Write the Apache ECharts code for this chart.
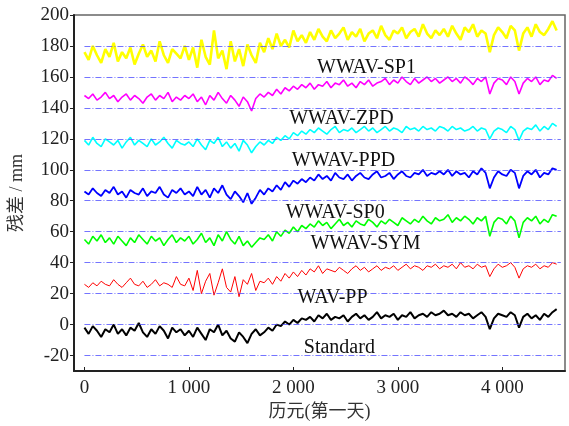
<!DOCTYPE html>
<html>
<head>
<meta charset="utf-8">
<script src="https://cdn.jsdelivr.net/npm/echarts@6/dist/echarts.min.js"></script>
<style>
  html, body { margin: 0; padding: 0; background: #fff; }
  #chart { width: 569px; height: 426px; }
</style>
</head>
<body>
<div id="chart"></div>
<script>
// 采样历元（每 40 天一个点）
const step = 40
const nPts = 114
const epochs = Array.from({ length: nPts }, (_, i) => i * step)

// 各方案残差 (mm)，已叠加偏移
const standard = [-2,-6,-1,-4,-8,-3,-5,0,-6,-3,-7,-2,-4,1,-5,-8,-3,-6,-1,-4,-9,-2,-5,-3,-7,
  -4,-8,-2,-6,-10,-3,-5,0,-7,-4,-9,-11,-5,-8,-12,-6,-3,-7,
  -5,-2,-4,0,-1,2,0,3,1,4,
  3,5,2,6,4,7,3,5,4,6,2,5,7,4,6,3,5,8,4,6,5,7,3,6,5,8,4,6,7,5,8,6,7,
  9,6,7,5,8,6,7,4,6,8,5,-3,4,7,6,5,8,6,-2,5,7,4,6,3,7,5,8,10]
const wavPP = [26,24,27,25,28,26,25,29,26,24,27,30,26,25,28,24,26,29,25,27,26,24,31,26,25,
  30,22,35,20,28,33,19,27,36,24,21,31,18,29,26,33,22,28,
  27,30,26,31,28,33,30,34,31,35,
  32,36,34,38,33,36,35,34,37,35,33,36,38,35,37,34,36,38,35,37,36,38,35,37,39,36,38,37,35,38,37,39,36,
  38,37,39,36,40,37,38,36,39,37,38,31,36,39,37,38,40,37,30,36,38,37,39,36,38,37,40,39]
const wwavSYM = [55,52,57,54,58,53,56,52,57,54,51,56,53,58,55,52,57,54,56,51,55,58,53,56,54,
  57,52,55,59,53,56,51,58,54,60,55,52,57,51,54,50,53,56,
  55,58,54,60,57,61,59,63,60,64,
  62,65,63,67,64,66,62,65,68,64,66,63,67,65,64,68,66,63,67,65,68,66,64,69,67,65,68,66,70,67,65,69,67,
  68,71,66,69,67,70,68,65,69,67,70,57,66,69,68,65,70,67,56,66,69,67,70,65,68,66,71,70]
const wwavSP0 = [86,84,88,85,83,87,85,89,84,86,82,87,85,84,88,83,86,85,89,84,82,87,85,88,84,
  86,83,89,84,87,82,88,85,90,84,81,86,83,79,85,78,82,87,
  84,88,86,90,87,92,89,93,91,94,
  92,95,93,97,94,96,93,98,95,94,97,93,96,98,95,94,97,99,95,96,98,94,97,99,96,95,98,97,100,96,98,97,99,
  97,100,96,99,97,98,95,99,97,101,98,88,95,99,97,96,100,98,88,96,99,97,100,95,98,97,101,100]
const wwavPPD = [119,116,121,117,115,120,118,116,119,114,118,121,116,119,117,115,120,116,118,121,117,114,119,117,116,
  118,115,120,116,113,119,117,121,115,118,114,117,112,119,116,111,115,118,
  116,119,117,121,119,122,120,124,122,125,
  123,126,124,127,125,123,126,128,124,126,125,127,124,126,128,125,127,124,126,128,125,127,126,124,128,126,127,125,128,126,127,125,128,
  127,125,128,126,127,125,126,128,125,127,126,120,125,127,126,124,128,126,119,125,127,126,129,125,128,126,130,128]
const wwavZPD = [148,146,149,145,147,150,146,148,144,147,149,145,148,146,143,147,149,145,148,146,150,144,147,145,148,
  146,149,144,147,142,148,145,150,146,143,148,145,141,147,144,138,146,149,
  147,150,148,152,149,153,151,154,152,155,
  153,156,152,155,154,157,153,156,155,158,154,156,153,157,155,158,154,156,157,159,155,158,156,160,157,155,159,156,158,160,157,159,156,
  158,160,157,159,156,160,158,155,159,157,160,149,156,159,158,155,160,157,149,156,159,157,160,155,158,157,161,159]
const wwavSP1 = [176,171,180,174,169,178,173,182,170,176,172,179,168,175,181,173,177,170,183,174,169,178,175,172,180,
  171,179,166,184,173,168,190,172,177,165,183,170,178,167,181,174,169,182,
  176,185,178,188,180,184,179,190,183,187,
  182,189,184,191,186,183,190,185,188,192,184,189,186,191,183,188,190,185,193,187,184,190,188,192,185,189,191,186,194,188,185,190,187,
  191,186,193,188,184,192,189,194,186,190,188,176,187,192,189,185,193,190,177,188,192,186,194,189,187,191,196,190]

// 参考虚线
const refLevels = [-20, 0, 20, 40, 60, 80, 100, 120, 140, 160, 180]
const refStart = 0
const refEnd = 4560

// 刻度
const yTicks = [-20, 0, 20, 40, 60, 80, 100, 120, 140, 160, 180, 200]
const xTicks = [0, 1000, 2000, 3000, 4000]

// 曲线标注
const labelNames = ['WWAV-SP1', 'WWAV-ZPD', 'WWAV-PPD', 'WWAV-SP0', 'WWAV-SYM', 'WAV-PP', 'Standard']
const labelDays = [2700, 2460, 2480, 2400, 2690, 2375, 2440]
const labelValues = [166, 133, 106, 72.5, 52.5, 17.5, -15]

const serif = '"Liberation Serif", "Times New Roman", serif'
const cjk = '"Liberation Serif", "Noto Sans CJK SC", serif'

const seriesDefs = [
  { name: 'Standard', data: standard, color: '#000000', width: 2 },
  { name: 'WAV-PP', data: wavPP, color: '#ff0000', width: 1 },
  { name: 'WWAV-SYM', data: wwavSYM, color: '#00ff00', width: 1.6 },
  { name: 'WWAV-SP0', data: wwavSP0, color: '#0000ff', width: 1.8 },
  { name: 'WWAV-PPD', data: wwavPPD, color: '#00ffff', width: 1.6 },
  { name: 'WWAV-ZPD', data: wwavZPD, color: '#ff00ff', width: 1.6 },
  { name: 'WWAV-SP1', data: wwavSP1, color: '#ffff00', width: 2.6 }
]

const chart = echarts.init(document.getElementById('chart'))

const lineSeries = seriesDefs.map(s => ({
  name: s.name,
  type: 'line',
  showSymbol: false,
  animation: false,
  data: s.data.map((v, i) => [epochs[i], v]),
  lineStyle: { color: s.color, width: s.width },
  itemStyle: { color: s.color },
  z: 3
}))

const option = {
  animation: false,
  grid: { left: 70, right: 4, top: 15, bottom: 55, show: true, borderColor: '#666', borderWidth: 1.5 },
  xAxis: {
    type: 'value',
    min: -100,
    max: 4600,
    name: '历元(第一天)',
    nameLocation: 'middle',
    nameGap: 28,
    nameTextStyle: { fontFamily: cjk, fontSize: 18, color: '#333' },
    axisLine: { show: true, onZero: false, lineStyle: { color: '#222', width: 2 } },
    axisTick: { show: true, inside: true, length: 4, customValues: xTicks, lineStyle: { color: '#222' } },
    axisLabel: {
      customValues: xTicks,
      fontFamily: serif,
      fontSize: 19,
      color: '#222',
      margin: 8,
      formatter: v => String(v).replace(/\B(?=(\d{3})+(?!\d))/g, ' ')
    },
    splitLine: { show: false }
  },
  yAxis: {
    type: 'value',
    min: -30,
    max: 200,
    name: '残差 / mm',
    nameLocation: 'middle',
    nameGap: 48,
    nameTextStyle: { fontFamily: cjk, fontSize: 18, color: '#333' },
    axisLine: { show: true, onZero: false, lineStyle: { color: '#222', width: 2 } },
    axisTick: { show: true, length: 4, customValues: yTicks, lineStyle: { color: '#222' } },
    axisLabel: { customValues: yTicks, fontFamily: serif, fontSize: 19, color: '#222', margin: 5 },
    splitLine: { show: false }
  },
  series: [
    ...lineSeries,
    {
      type: 'line',
      data: [],
      silent: true,
      markLine: {
        silent: true,
        symbol: 'none',
        label: { show: false },
        lineStyle: { color: '#5050ff', width: 0.8, type: [6, 2, 1, 2] },
        data: refLevels.map(v => [{ coord: [refStart, v] }, { coord: [refEnd, v] }])
      },
      z: 2
    },
    {
      type: 'scatter',
      symbolSize: 0,
      silent: true,
      itemStyle: { color: '#111' },
      data: labelNames.map((n, i) => ({ name: n, value: [labelDays[i], labelValues[i]] })),
      label: {
        show: true,
        position: 'inside',
        formatter: p => p.name,
        fontFamily: serif,
        fontSize: 20,
        color: '#111',
        textBorderWidth: 0,
        opacity: 1
      },
      z: 5
    }
  ]
}

chart.setOption(option)
</script>
</body>
</html>
